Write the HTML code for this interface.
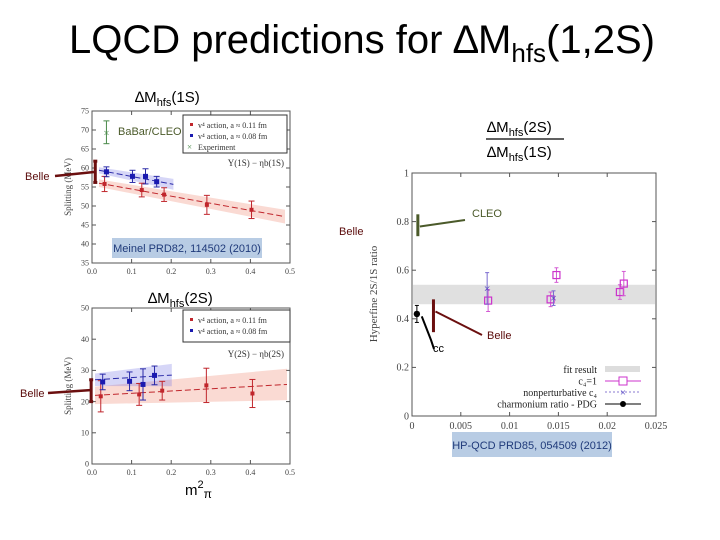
<!DOCTYPE html>
<html><head><meta charset="utf-8">
<style>
body{margin:0;background:#fff;}
svg{display:block;font-family:"Liberation Serif",serif;}
.ss{font-family:"Liberation Sans",sans-serif;}
</style></head>
<body>
<svg id="s" width="720" height="540" viewBox="0 0 720 540" xmlns="http://www.w3.org/2000/svg">
<text x="362" y="53" text-anchor="middle" class="ss" font-size="40" fill="#000">LQCD predictions for ∆M<tspan font-size="26" dy="9">hfs</tspan><tspan dy="-9">(1,2S)</tspan></text>
<text x="135" y="102" class="ss" font-size="15">∆M<tspan font-size="11" dy="4">hfs</tspan><tspan dy="-4">(1S)</tspan></text>
<text x="487" y="132" class="ss" font-size="15">∆M<tspan font-size="11" dy="4">hfs</tspan><tspan dy="-4">(2S)</tspan></text>
<line x1="486" y1="139" x2="564" y2="139" stroke="#000" stroke-width="1.2"/>
<text x="487" y="157" class="ss" font-size="15">∆M<tspan font-size="11" dy="4">hfs</tspan><tspan dy="-4">(1S)</tspan></text>
<text x="148" y="303" class="ss" font-size="15">∆M<tspan font-size="11" dy="4">hfs</tspan><tspan dy="-4">(2S)</tspan></text>
<text x="185" y="495" class="ss" font-size="15">m<tspan font-size="11" dy="-7">2</tspan><tspan font-size="12" dy="10">π</tspan></text>
<g id="c1"></g><g id="c2"></g><g id="c3"></g>
<rect x="112" y="238" width="150" height="20" fill="#b8cce4"/>
<text x="187" y="252" text-anchor="middle" class="ss" font-size="11" fill="#1f3a7a">Meinel PRD82, 114502 (2010)</text>
<rect x="452" y="432" width="160" height="25" fill="#b8cce4"/>
<text x="532" y="449" text-anchor="middle" class="ss" font-size="11" fill="#1f3a7a">HP-QCD PRD85, 054509 (2012)</text>
<text x="25" y="180" class="ss" font-size="11" fill="#5a0a0a">Belle</text>
<line x1="55" y1="176" x2="94" y2="172" stroke="#6b0f0f" stroke-width="2.5"/>
<text x="20" y="397" class="ss" font-size="11" fill="#5a0a0a">Belle</text>
<line x1="48" y1="393" x2="92" y2="390" stroke="#6b0f0f" stroke-width="2.5"/>
<text x="339" y="235" class="ss" font-size="11" fill="#5a0a0a">Belle</text>
<text x="118" y="135" class="ss" font-size="11" fill="#4b5a2a">BaBar/CLEO</text>
</svg>
<script>
const NS="http://www.w3.org/2000/svg";
function mk(p,t,a){const e=document.createElementNS(NS,t);for(const k in a)e.setAttribute(k,a[k]);p.appendChild(e);return e;}
// ---- chart 1 data (1S) ----
const x1Ticks=[0.0,0.1,0.2,0.3,0.4,0.5];
const y1Ticks=[35,40,45,50,55,60,65,70,75];
const red1X=[0.015,0.115,0.175,0.29,0.41];
const red1Y=[55.8,54.2,53.0,50.3,49.0];
const red1E=[2.0,1.8,1.8,2.5,2.3];
const blue1X=[0.02,0.09,0.125,0.155];
const blue1Y=[59.0,57.8,57.8,56.4];
const blue1E=[1.3,1.6,2.0,1.4];
const red1Fit=[56.0,47.2];
const blue1Fit=[59.4,55.7];
const exp1=[0.02,69.4,3.0];
const belle1=[59.0,2.8];
// ---- chart 2 data (2S) ----
const y2Ticks=[0,10,20,30,40,50];
const red2X=[0.015,0.115,0.175,0.29,0.41];
const red2Y=[21.7,22.3,23.5,25.2,22.6];
const red2E=[5.0,3.5,3.0,5.5,4.5];
const blue2X=[0.02,0.09,0.125,0.155];
const blue2Y=[26.3,26.5,25.5,28.4];
const blue2E=[2.5,3.0,5.0,3.0];
const red2Fit=[22.0,25.5];
const blue2Fit=[27.0,28.5];
const belle2=[23.5,3.5];
// ---- chart 3 data (ratio) ----
const x3Ticks=[0,0.005,0.01,0.015,0.02,0.025];
const x3Labels=["0","0.005","0.01","0.015","0.02","0.025"];
const y3Ticks=[0,0.2,0.4,0.6,0.8,1];
const sqX=[0.0078,0.0142,0.0148,0.0213,0.0217];
const sqY=[0.475,0.48,0.58,0.51,0.545];
const sqE=[0.045,0.03,0.03,0.03,0.05];
const crX=[0.0077,0.0145];
const crY=[0.525,0.485];
const crE=[0.065,0.03];
const pdg=[0.0005,0.42,0.035];
const band=[0.46,0.54];
const cleo=[0.0006,0.74,0.83];
const belle3=[0.0022,0.345,0.48];

function panel(g,L,R,T,B,x0,x1,y0,y1,xt,xl,yt,yl,fs){
  const X=v=>L+(v-x0)/(x1-x0)*(R-L), Y=v=>B-(v-y0)/(y1-y0)*(B-T);
  const f=mk(g,'rect',{x:L,y:T,width:R-L,height:B-T,fill:'none',stroke:'#555','stroke-width':1});
  
  
  xt.forEach((v,i)=>{mk(g,'line',{x1:X(v),x2:X(v),y1:B,y2:B-4,stroke:'#555'});mk(g,'line',{x1:X(v),x2:X(v),y1:T,y2:T+4,stroke:'#555'});
    const t=mk(g,'text',{x:X(v),y:B+fs+3,'text-anchor':'middle','font-size':fs,fill:'#444'});t.textContent=xl[i];
    
    });
  yt.forEach((v,i)=>{mk(g,'line',{x1:L,x2:L+4,y1:Y(v),y2:Y(v),stroke:'#555'});mk(g,'line',{x1:R,x2:R-4,y1:Y(v),y2:Y(v),stroke:'#555'});
    const t=mk(g,'text',{x:L-3,y:Y(v)+fs/3,'text-anchor':'end','font-size':fs,fill:'#444'});t.textContent=yl[i];
    
    });
  return [X,Y];
}
function eb(g,X,Y,x,y,e,c,w,cap){mk(g,'line',{x1:X(x),x2:X(x),y1:Y(y-e),y2:Y(y+e),stroke:c,'stroke-width':w||1});
  mk(g,'line',{x1:X(x)-cap,x2:X(x)+cap,y1:Y(y-e),y2:Y(y-e),stroke:c,'stroke-width':w||1});
  mk(g,'line',{x1:X(x)-cap,x2:X(x)+cap,y1:Y(y+e),y2:Y(y+e),stroke:c,'stroke-width':w||1});}
function fit(g,X,Y,xa,xb,ya,yb,w,fill,stroke,name){
  const p=mk(g,'polygon',{points:`${X(xa)},${Y(ya+w)} ${X(xb)},${Y(yb+w*1.8)} ${X(xb)},${Y(yb-w*1.8)} ${X(xa)},${Y(ya-w)}`,fill:fill});
  
  
  const l=mk(g,'line',{x1:X(xa),y1:Y(ya),x2:X(xb),y2:Y(yb),stroke:stroke,'stroke-dasharray':'6 3'});
  
  }
function lat(g,X,Y,rx,ry,re,bx,by,be){
  rx.forEach((x,i)=>{eb(g,X,Y,x,ry[i],re[i],'#c0262c',1,3);const r=mk(g,'rect',{x:X(x)-2,y:Y(ry[i])-2,width:4,height:4,fill:'#c0262c'});
    
    });
  bx.forEach((x,i)=>{eb(g,X,Y,x,by[i],be[i],'#2a2aa8',1,3);const r=mk(g,'rect',{x:X(x)-2.5,y:Y(by[i])-2.5,width:5,height:5,fill:'#1a1ab0'});
    
    });
}
function ylab(g,x,y,txt,fs){const t=mk(g,'text',{x:x,y:y,transform:`rotate(-90 ${x} ${y})`,'text-anchor':'middle','font-size':fs,fill:'#444'});t.textContent=txt;
  
  }
function legend(g,x,y,w,h,rows){const b=mk(g,'rect',{x:x,y:y,width:w,height:h,fill:'#fff',stroke:'#333'});
  
  
  rows.forEach((r,i)=>{const yy=y+10+i*11;mk(g,r[1]=='x'?'text':'rect',r[1]=='x'?{x:x+4,y:yy+3,'font-size':9,fill:r[0]}:{x:x+7,y:yy-2,width:3,height:3,fill:r[0]});
    if(r[1]=='x')g.lastChild.textContent='×';
    const t=mk(g,'text',{x:x+15,y:yy+3,'font-size':8,fill:'#333'});t.textContent=r[2];
    
    });}

// chart 1
{const g=document.getElementById('c1');
 const [X,Y]=panel(g,92,290,111,263,0,0.5,35,75,x1Ticks,x1Ticks.map(v=>v.toFixed(1)),y1Ticks,y1Ticks.map(String),8);
 const X2=v=>99+v*372;
 fit(g,X2,Y,0,0.5,red1Fit[0],red1Fit[1],1.0,'rgba(240,150,130,0.35)','#c0262c','red-fit-1s');
 fit(g,X2,Y,0,0.2,blue1Fit[0],blue1Fit[1],0.8,'rgba(120,120,230,0.3)','#2a2aa8','blue-fit-1s');
 lat(g,X2,Y,red1X,red1Y,red1E,blue1X,blue1Y,blue1E);
 eb(g,X2,Y,exp1[0],exp1[1],exp1[2],'#4a8a4a',1,3);
 const ex=mk(g,'text',{x:X2(exp1[0]),y:Y(exp1[1])+4,'text-anchor':'middle','font-size':11,fill:'#4a8a4a'});ex.textContent='×';
 
 
 eb(g,X2,Y,-0.01,belle1[0],belle1[1],'#6b0f0f',3,2);
 legend(g,183,115,104,38,[['#c0262c','s','v⁴ action, a ≈ 0.11 fm'],['#1a1ab0','s','v⁴ action, a ≈ 0.08 fm'],['#4a8a4a','x','Experiment']]);
 const tt=mk(g,'text',{x:284,y:166,'text-anchor':'end','font-size':9,fill:'#333'});tt.textContent='Υ(1S) − ηb(1S)';
 ylab(g,71,187,'Splitting (MeV)',9);}
// chart 2
{const g=document.getElementById('c2');
 const [X,Y]=panel(g,92,290,308,464,0,0.5,0,50,x1Ticks,x1Ticks.map(v=>v.toFixed(1)),y2Ticks,y2Ticks.map(String),8);
 const X2=v=>95+v*384;
 fit(g,X2,Y,0,0.5,red2Fit[0],red2Fit[1],2.8,'rgba(240,150,130,0.35)','#c0262c','red-fit-2s');
 fit(g,X2,Y,0,0.2,blue2Fit[0],blue2Fit[1],2.0,'rgba(120,120,230,0.3)','#2a2aa8','blue-fit-2s');
 lat(g,X2,Y,red2X,red2Y,red2E,blue2X,blue2Y,blue2E);
 eb(g,X2,Y,-0.01,belle2[0],belle2[1],'#6b0f0f',3,2);
 legend(g,183,310,107,32,[['#c0262c','s','v⁴ action, a ≈ 0.11 fm'],['#1a1ab0','s','v⁴ action, a ≈ 0.08 fm']]);
 const tt=mk(g,'text',{x:284,y:357,'text-anchor':'end','font-size':9,fill:'#333'});tt.textContent='Υ(2S) − ηb(2S)';
 ylab(g,71,386,'Splitting (MeV)',9);}
// chart 3
{const g=document.getElementById('c3');
 const [X,Y]=panel(g,412,656,173,416,0,0.025,0,1,x3Ticks,x3Labels,y3Ticks,y3Ticks.map(String),10);
 const bd=mk(g,'rect',{x:413,y:Y(band[1]),width:242,height:Y(band[0])-Y(band[1]),fill:'#e0e0e0'});
 
 
 g.insertBefore(bd,g.children[1]);
 sqX.forEach((x,i)=>{eb(g,X,Y,x,sqY[i],sqE[i],'#d35ad3',1,2);const r=mk(g,'rect',{x:X(x)-3.5,y:Y(sqY[i])-3.5,width:7,height:7,fill:'none',stroke:'#cc33cc','stroke-width':1.2});
   
   });
 crX.forEach((x,i)=>{eb(g,X,Y,x,crY[i],crE[i],'#7a6ad0',1,2);const t=mk(g,'text',{x:X(x),y:Y(crY[i])+4,'text-anchor':'middle','font-size':12,fill:'#4a3ac0'});t.textContent='×';
   
   });
 eb(g,X,Y,pdg[0],pdg[1],pdg[2],'#000',1,2);
 const c=mk(g,'circle',{cx:X(pdg[0]),cy:Y(pdg[1]),r:3.2,fill:'#000'});
 
 
 mk(g,'line',{x1:X(cleo[0]),x2:X(cleo[0]),y1:Y(cleo[1]),y2:Y(cleo[2]),stroke:'#4b5a2a','stroke-width':3});
 mk(g,'line',{x1:X(cleo[0])+2,y1:Y(0.78),x2:465,y2:220,stroke:'#4b5a2a','stroke-width':2});
 mk(g,'line',{x1:X(belle3[0]),x2:X(belle3[0]),y1:Y(belle3[1]),y2:Y(belle3[2]),stroke:'#6b0f0f','stroke-width':3});
 mk(g,'line',{x1:X(belle3[0])+2,y1:Y(0.43),x2:482,y2:335,stroke:'#6b0f0f','stroke-width':2});
 mk(g,'polyline',{points:`${X(0.001)},${Y(0.41)} 431,340 434,349`,fill:'none',stroke:'#000','stroke-width':2});
 const tx=(x,y,s,col,n)=>{const t=mk(g,'text',{x:x,y:y,'font-size':11,fill:col,class:'ss'});t.textContent=s;
   
   };
 tx(472,217,'CLEO','#4b5a2a','cleo-label');tx(487,339,'Belle','#5a0a0a','belle-label-right');tx(433,352,'cc','#000','cc-label');
 ylab(g,377,294,'Hyperfine 2S/1S ratio',11);
 const lg=[['fit result'],['c₄=1'],['nonperturbative c₄'],['charmonium ratio - PDG']];
 lg.forEach((r,i)=>{const yy=369+i*11.5;const t=mk(g,'text',{x:597,y:yy+4,'text-anchor':'end','font-size':10,fill:'#222'});t.textContent=r[0];
   
   });
 mk(g,'rect',{x:605,y:366,width:35,height:6,fill:'#ddd'});
 mk(g,'line',{x1:605,x2:641,y1:381,y2:381,stroke:'#cc33cc'});mk(g,'rect',{x:619,y:377,width:8,height:8,fill:'#fff',stroke:'#cc33cc'});
 mk(g,'line',{x1:605,x2:641,y1:392,y2:392,stroke:'#8a7ad0','stroke-dasharray':'2 2'});mk(g,'text',{x:623,y:396,'text-anchor':'middle','font-size':11,fill:'#4a3ac0'}).textContent='×';
 mk(g,'line',{x1:605,x2:641,y1:404,y2:404,stroke:'#000'});mk(g,'circle',{cx:623,cy:404,r:3,fill:'#000'});}
</script>
</body></html>
